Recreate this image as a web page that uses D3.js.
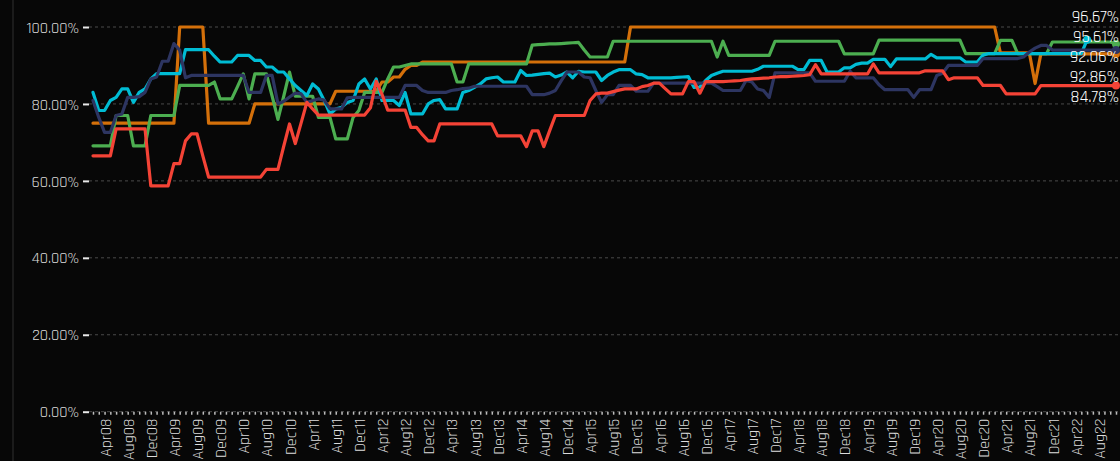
<!DOCTYPE html>
<html>
<head>
<meta charset="utf-8">
<script src="https://cdn.jsdelivr.net/npm/d3@7/dist/d3.min.js"></script>
<style>
  html, body { margin: 0; padding: 0; background: #070707; }
  svg { display: block; }
  .tick text { font-family: Rajdhani, "DejaVu Sans Condensed", "Liberation Sans Narrow", Roboto, sans-serif; }
</style>
</head>
<body>
<svg id="chart" width="1120" height="461"></svg>
<script>
/* Monthly % series, Feb08 → Nov22, with end-value callouts */

const MONTH_NAMES = ["Jan", "Feb", "Mar", "Apr", "May", "Jun", "Jul", "Aug", "Sep", "Oct", "Nov", "Dec"];
const YEARS = ["08", "09", "10", "11", "12", "13", "14", "15", "16", "17", "18", "19", "20", "21", "22"];

const TICK_LABELS = [
  "Apr08", "Aug08", "Dec08", "Apr09", "Aug09", "Dec09", "Apr10", "Aug10", "Dec10",
  "Apr11", "Aug11", "Dec11", "Apr12", "Aug12", "Dec12", "Apr13", "Aug13", "Dec13",
  "Apr14", "Aug14", "Dec14", "Apr15", "Aug15", "Dec15", "Apr16", "Aug16", "Dec16",
  "Apr17", "Aug17", "Dec17", "Apr18", "Aug18", "Dec18", "Apr19", "Aug19", "Dec19",
  "Apr20", "Aug20", "Dec20", "Apr21", "Aug21", "Dec21", "Apr22", "Aug22",
];

const Y_TICKS = [0, 20, 40, 60, 80, 100];

const ORANGE = [
  75, 75, 75, 75, 75, 75, 75, 75, 75, 75,
  75, 75, 75, 75, 75, 100, 100, 100, 100, 100,
  75, 75, 75, 75, 75, 75, 75, 75, 80, 80,
  80, 80, 80, 80, 80, 80, 80, 80, 80, 80,
  80, 80, 83.3, 83.3, 83.3, 83.3, 83.3, 83.3, 83.3, 83.3,
  85.7, 85.7, 87, 87, 89, 90, 90, 90.9, 90.9, 90.9,
  90.9, 90.9, 90.9, 90.9, 90.9, 90.9, 90.9, 90.9, 90.9, 90.9,
  90.9, 90.9, 90.9, 90.9, 90.9, 90.9, 90.9, 90.9, 90.9, 90.9,
  90.9, 90.9, 90.9, 90.9, 90.9, 90.9, 90.9, 90.9, 90.9, 90.9,
  90.9, 90.9, 90.9, 100, 100, 100, 100, 100, 100, 100,
  100, 100, 100, 100, 100, 100, 100, 100, 100, 100,
  100, 100, 100, 100, 100, 100, 100, 100, 100, 100,
  100, 100, 100, 100, 100, 100, 100, 100, 100, 100,
  100, 100, 100, 100, 100, 100, 100, 100, 100, 100,
  100, 100, 100, 100, 100, 100, 100, 100, 100, 100,
  100, 100, 100, 100, 100, 100, 100, 93.3, 93.3, 93.3,
  93.3, 93.3, 93.3, 85.3, 93, 93, 93, 93, 93, 93,
  93, 93, 93, 93, 93, 93, 93, 93,
];

const GREEN = [
  69.1, 69.1, 69.1, 69.1, 77, 77, 77, 69.1, 69.1, 69.1,
  77, 77, 77, 77, 77, 84.8, 84.8, 84.8, 84.8, 84.8,
  84.8, 85.7, 81.3, 81.3, 81.3, 84.5, 87.8, 81.3, 87.8, 87.8,
  87.8, 82, 76, 82, 88.3, 82, 82, 82, 82, 76.5,
  76.5, 76.5, 70.9, 70.9, 70.9, 76.5, 78.3, 83, 83, 83,
  83, 86.5, 89.6, 89.6, 90, 90.4, 90.4, 90.4, 90.4, 90.4,
  90.4, 90.4, 90.4, 85.7, 85.7, 90.4, 90.4, 90.4, 90.4, 90.4,
  90.4, 90.4, 90.4, 90.4, 90.4, 90.4, 95.3, 95.4, 95.5, 95.6,
  95.6, 95.7, 95.8, 95.9, 96, 94, 92.2, 92.2, 92.2, 92.2,
  96.3, 96.3, 96.3, 96.3, 96.3, 96.3, 96.3, 96.3, 96.3, 96.3,
  96.3, 96.3, 96.3, 96.3, 96.3, 96.3, 96.3, 96.3, 92.2, 96.3,
  92.6, 92.6, 92.6, 92.6, 92.6, 92.6, 92.6, 92.6, 96.3, 96.3,
  96.3, 96.3, 96.3, 96.3, 96.3, 96.3, 96.3, 96.3, 96.3, 96.3,
  93, 93, 93, 93, 93, 93, 96.6, 96.6, 96.6, 96.6,
  96.6, 96.6, 96.6, 96.6, 96.6, 96.6, 96.6, 96.6, 96.6, 96.6,
  96.6, 93.1, 93.1, 93.1, 93.1, 93.1, 93.1, 96.5, 96.5, 96.5,
  93.1, 93.1, 93.1, 93.1, 93.1, 93.1, 96.1, 96.1, 96.1, 96.1,
  96.1, 96.1, 96.1, 96.1, 96.1, 96.1, 96.1, 95.6,
];

const CYAN = [
  83, 78.3, 78.3, 80.9, 81.7, 83.9, 83.9, 80.4, 83, 83.9,
  86.5, 87.9, 87.9, 87.9, 87.9, 87.9, 94.1, 94.1, 94.1, 94.1,
  94.1, 92.4, 90.9, 90.9, 90.9, 92.6, 92.6, 92.6, 91.3, 91.3,
  89.6, 89.6, 88.3, 88.3, 86.5, 84.8, 83.5, 82.2, 85.2, 83.9,
  80.9, 77.4, 78.7, 79.1, 80.4, 80.9, 85.2, 86.5, 83.9, 86.5,
  80.9, 80.9, 80.9, 79.6, 83, 77.4, 77.4, 77.4, 80, 80.9,
  81.1, 78.7, 78.7, 78.7, 83, 83.5, 84.3, 85.2, 86.5, 86.8,
  87, 85.7, 85.7, 85.7, 88.7, 87.4, 87.5, 87.7, 87.9, 88,
  87, 87.5, 88.3, 86.8, 88.5, 88.3, 88.3, 88.3, 86.1, 87.4,
  88.3, 88.9, 88.9, 88.9, 87.8, 87.6, 86.8, 86.8, 86.8, 86.8,
  86.8, 86.9, 87, 87.1, 84.3, 84.4, 86.1, 87.4, 88, 88.5,
  88.5, 88.5, 88.5, 88.5, 88.5, 89, 89.8, 89.8, 89.8, 89.8,
  89.8, 89.8, 88.9, 88.9, 91.3, 91.3, 91.3, 88.3, 88.3, 88.3,
  89.4, 89.4, 90.3, 90.6, 90.6, 91.6, 91.6, 91.6, 89.7, 91.7,
  91.7, 91.7, 91.7, 91.7, 91.7, 92.9, 92, 92, 92, 92,
  92, 90.9, 90.9, 90.9, 92.7, 93.1, 93.1, 93.1, 93.1, 93.1,
  93.1, 93.1, 93.1, 93.1, 93.1, 93.1, 93.1, 93.1, 93.1, 93.1,
  93.1, 93.1, 96.67,
];

const NAVY = [
  80.9, 76.5, 72.6, 72.6, 77, 77.4, 81.7, 81.7, 81.9, 83,
  86.5, 87, 91.1, 91.1, 95.7, 94, 86.8, 87.4, 87.4, 87.4,
  87.4, 87.4, 87.4, 87.4, 87.4, 87.4, 87.4, 83, 83, 83,
  87.4, 87.4, 80, 80.7, 81.8, 82.8, 82.6, 80.4, 80.9, 81.3,
  81, 78.7, 78.7, 78.7, 81.6, 81.7, 81.7, 81.7, 81.7, 81.7,
  81.7, 81.7, 81.7, 81.7, 84.8, 84.8, 84.8, 83.5, 83, 83,
  83, 83, 83.5, 83.7, 84, 84.1, 84.6, 84.6, 84.6, 84.6,
  84.6, 84.6, 84.6, 84.6, 84.6, 84.6, 82.4, 82.4, 82.4, 82.8,
  83.5, 86, 88.3, 88.3, 88.3, 87, 86.8, 83.5, 80.4, 82.4,
  82.4, 84.8, 84.8, 84.8, 83.3, 83.3, 83.3, 85.4, 85.4, 85.4,
  85.4, 85.4, 85.4, 85.4, 85.4, 85.4, 85.4, 85.4, 84.5, 83.5,
  83.5, 83.5, 83.5, 86.1, 85.7, 83.9, 83.5, 81.7, 88.1, 88.1,
  88.1, 88.1, 88.1, 88.1, 88.1, 85.9, 85.9, 85.9, 85.9, 85.9,
  85.9, 88.5, 86.8, 86.8, 86.8, 86.8, 85, 83.7, 83.7, 83.7,
  83.7, 83.7, 81.7, 83.7, 83.7, 83.7, 87.4, 88, 90, 90,
  90, 90, 90, 90, 91.8, 91.8, 91.8, 91.8, 91.8, 91.8,
  91.8, 92.2, 93.5, 94.5, 95.2, 95.2, 94, 94, 94, 94,
  94, 94, 94, 94, 94, 94, 94, 94,
];

const RED = [
  66.5, 66.5, 66.5, 66.5, 73.5, 73.5, 73.5, 73.5, 73.5, 73.5,
  58.7, 58.7, 58.7, 58.7, 64.5, 64.5, 70.4, 72.2, 72.2, 66.5,
  61, 61, 61, 61, 61, 61, 61, 61, 61, 61,
  63, 63, 63, 69, 74.8, 69.7, 75, 80.4, 78.7, 77.1,
  77.1, 77.1, 77.1, 77.1, 77.1, 77.1, 77.1, 77.1, 79, 85.9,
  82.5, 78.4, 78.4, 78.4, 78.4, 73.9, 73.9, 72, 70.4, 70.4,
  74.8, 74.8, 74.8, 74.8, 74.8, 74.8, 74.8, 74.8, 74.8, 74.8,
  71.7, 71.7, 71.7, 71.7, 71.7, 68.9, 73, 73, 68.9, 73,
  77, 77, 77, 77, 77, 77, 80.9, 82.6, 82.8, 82.8,
  83.2, 83.6, 83.9, 83.9, 83.9, 84.5, 84.8, 85.4, 85.4, 84,
  82.6, 82.6, 82.6, 85.8, 85.8, 82.8, 85.8, 85.8, 85.8, 85.8,
  85.9, 86, 86.1, 86.3, 86.5, 86.6, 86.7, 86.8, 87, 87.1,
  87.1, 87.2, 87.3, 87.4, 87.6, 90.2, 87.8, 87.8, 87.8, 87.8,
  87.8, 87.8, 87.8, 87.8, 87.8, 90.4, 88.1, 88.1, 88.1, 88.1,
  88.1, 88.1, 88.1, 88.1, 88.6, 88.6, 88.6, 88.6, 86.3, 86.8,
  86.8, 86.8, 86.8, 86.8, 84.8, 84.8, 84.8, 84.8, 82.6, 82.6,
  82.6, 82.6, 82.6, 82.6, 84.78, 84.78, 84.78, 84.78, 84.78, 84.78,
  84.78, 84.78, 84.78, 84.78, 84.78, 84.78, 84.78, 84.78,
];

// callouts at the right edge, top to bottom as shown
const END_VALUES = [96.67, 95.61, 92.06, 92.86, 84.78];

const SERIES = [
  { name: "orange", color: "#d4700a", values: ORANGE },
  { name: "green", color: "#4cae50", values: GREEN },
  { name: "cyan", color: "#00bcd4", values: CYAN },
  { name: "navy", color: "#2d3561", values: NAVY },
  { name: "red", color: "#f44336", values: RED },
];

const months = [];
YEARS.forEach((yy) => MONTH_NAMES.forEach((m) => months.push(m + yy)));
const categories = months.slice(months.indexOf("Feb08"), months.indexOf("Nov22") + 1);

const W = 1120;
const H = 461;
const plot = { left: 89, right: 1120, top: 27, bottom: 411.7 };

const svg = d3.select("#chart");

svg.append("rect").attr("width", W).attr("height", H).attr("fill", "#070707");

// sliver of the neighbouring panel on the left
svg.append("line")
  .attr("x1", 13).attr("x2", 13).attr("y1", 0).attr("y2", H)
  .attr("stroke", "#1b1b1b").attr("stroke-width", 2);

const x = d3.scalePoint().domain(categories).range([93, 1116]);
const y = d3.scaleLinear().domain([0, 100]).range([plot.bottom, plot.top]);

const FONT = 'Rajdhani, "DejaVu Sans Condensed", "Liberation Sans Narrow", Roboto, sans-serif';

// gridlines
svg.append("g")
  .selectAll("line")
  .data(Y_TICKS)
  .join("line")
  .attr("x1", plot.left)
  .attr("x2", plot.right)
  .attr("y1", (d) => y(d))
  .attr("y2", (d) => y(d))
  .attr("stroke", "#4a4a4a")
  .attr("stroke-width", 1)
  .attr("stroke-dasharray", "3,3");

// y axis
const yAxis = svg.append("g")
  .attr("transform", `translate(${plot.left},0)`)
  .call(
    d3.axisLeft(y)
      .tickValues(Y_TICKS)
      .tickSize(6)
      .tickPadding(4)
      .tickFormat((d) => d3.format(".2f")(d) + "%")
  );
yAxis.select(".domain").remove();
yAxis.selectAll(".tick line").attr("stroke", "#e8e8e8").attr("stroke-width", 2);
yAxis.selectAll(".tick text")
  .attr("fill", "#dcdcdc")
  .style("font-family", FONT)
  .style("font-size", "16px");

// x axis: a tick every month, a label every 4th month
const xAxis = svg.append("g")
  .attr("transform", `translate(0,${plot.bottom})`)
  .call(
    d3.axisBottom(x)
      .tickValues(categories)
      .tickSize(3)
      .tickFormat((d) => (TICK_LABELS.includes(d) ? d : ""))
  );
xAxis.select(".domain").remove();
xAxis.selectAll(".tick line").attr("stroke", "#bdbdbd").attr("stroke-width", 1.5);
xAxis.selectAll(".tick text")
  .attr("fill", "#dcdcdc")
  .attr("transform", "rotate(-90)")
  .attr("x", -7)
  .attr("y", 0)
  .attr("dy", "0.35em")
  .attr("text-anchor", "end")
  .style("font-family", FONT)
  .style("font-size", "16px");

// lines
const line = d3.line()
  .x((d, i) => x(categories[i]))
  .y((d) => y(d));

const gLines = svg.append("g");
SERIES.forEach((s) => {
  gLines.append("path")
    .datum(s.values)
    .attr("fill", "none")
    .attr("stroke", s.color)
    .attr("stroke-width", 3.2)
    .attr("stroke-linejoin", "round")
    .attr("stroke-linecap", "round")
    .attr("d", line);
});

// end markers
SERIES.forEach((s) => {
  const last = s.values.length - 1;
  gLines.append("circle")
    .attr("cx", x(categories[last]))
    .attr("cy", y(s.values[last]))
    .attr("r", 4)
    .attr("fill", s.color);
});

// end callouts, pushed apart so they don't overlap
const GAP = 20;
const labels = END_VALUES.map((v) => ({ v, y: y(v) }));
for (let pass = 0; pass < 200; pass++) {
  let moved = false;
  for (let i = 1; i < labels.length; i++) {
    const a = labels[i - 1];
    const b = labels[i];
    const need = GAP - (b.y - a.y);
    if (need > 0.01) {
      a.y -= need / 2;
      b.y += need / 2;
      moved = true;
    }
  }
  if (!moved) break;
}

svg.append("g")
  .selectAll("text")
  .data(labels)
  .join("text")
  .attr("x", 1119)
  .attr("y", (d) => d.y)
  .attr("dy", "0.35em")
  .attr("text-anchor", "end")
  .attr("fill", "#ffffff")
  .style("font-family", FONT)
  .style("font-size", "17px")
  .text((d) => d3.format(".2f")(d.v) + "%");
</script>
</body>
</html>
